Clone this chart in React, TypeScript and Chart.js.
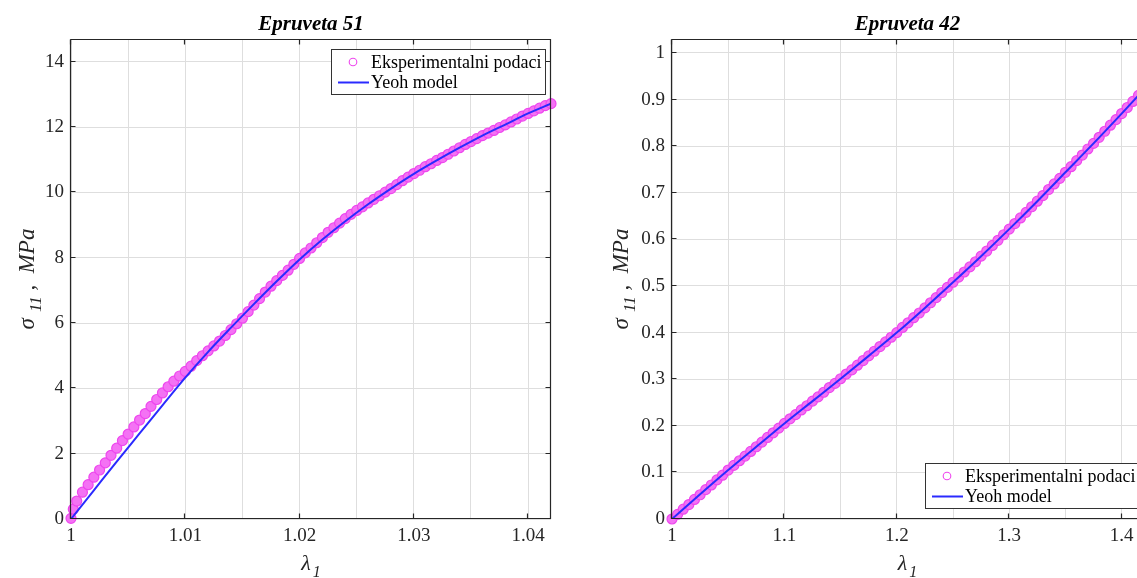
import React, { useEffect, useRef } from "react";
import { Chart, registerables } from "chart.js";

Chart.register(...registerables);

// ---------- Epruveta 51 ----------
const leftLambdaExp = [
  1.0000, 1.0002, 1.0005, 1.0010, 1.0015, 1.0020, 1.0025, 1.0030, 1.0035, 1.0040, 1.0045,
  1.0050, 1.0055, 1.0060, 1.0065, 1.0070, 1.0075, 1.0080, 1.0085, 1.0090, 1.0095,
  1.0100, 1.0105, 1.0110, 1.0115, 1.0120, 1.0125, 1.0130, 1.0135, 1.0140, 1.0145,
  1.0150, 1.0155, 1.0160, 1.0165, 1.0170, 1.0175, 1.0180, 1.0185, 1.0190, 1.0195,
  1.0200, 1.0205, 1.0210, 1.0215, 1.0220, 1.0225, 1.0230, 1.0235, 1.0240, 1.0245,
  1.0250, 1.0255, 1.0260, 1.0265, 1.0270, 1.0275, 1.0280, 1.0285, 1.0290, 1.0295,
  1.0300, 1.0305, 1.0310, 1.0315, 1.0320, 1.0325, 1.0330, 1.0335, 1.0340, 1.0345,
  1.0350, 1.0355, 1.0360, 1.0365, 1.0370, 1.0375, 1.0380, 1.0385, 1.0390, 1.0395,
  1.0400, 1.0405, 1.0410, 1.0415, 1.0420,
];
const leftSigmaExp = [
  0.02, 0.30, 0.55, 0.82, 1.05, 1.28, 1.50, 1.72, 1.95, 2.17, 2.40,
  2.60, 2.82, 3.03, 3.23, 3.45, 3.66, 3.86, 4.05, 4.22, 4.38,
  4.52, 4.68, 4.85, 5.00, 5.15, 5.30, 5.45, 5.62, 5.80, 5.98,
  6.15, 6.35, 6.55, 6.75, 6.95, 7.13, 7.30, 7.46, 7.62, 7.80,
  7.98, 8.15, 8.30, 8.46, 8.62, 8.78, 8.92, 9.06, 9.20, 9.33,
  9.45, 9.56, 9.68, 9.79, 9.90, 10.01, 10.12, 10.24, 10.36, 10.47,
  10.58, 10.68, 10.79, 10.88, 10.98, 11.07, 11.17, 11.27, 11.37, 11.47,
  11.56, 11.65, 11.74, 11.82, 11.90, 11.99, 12.07, 12.16, 12.25, 12.34,
  12.42, 12.50, 12.58, 12.66, 12.72,
];
const leftLambdaModel = [
  1.000, 1.002, 1.004, 1.006, 1.008, 1.010, 1.012, 1.014, 1.016, 1.018, 1.020,
  1.022, 1.024, 1.026, 1.028, 1.030, 1.032, 1.034, 1.036, 1.038, 1.040, 1.042,
];
const leftSigmaModel = [
  0.0, 0.88, 1.76, 2.62, 3.48, 4.33, 5.12, 5.86, 6.58, 7.28, 7.95,
  8.56, 9.12, 9.64, 10.12, 10.57, 10.98, 11.37, 11.74, 12.08, 12.42, 12.72,
];
const leftXGrid = [1, 1.005, 1.01, 1.015, 1.02, 1.025, 1.03, 1.035, 1.04];
const leftXLabels = [1, 1.01, 1.02, 1.03, 1.04];
const leftYTicks = [0, 2, 4, 6, 8, 10, 12, 14];

// ---------- Epruveta 42 ----------
const rightLambdaExp = [
  1.000, 1.005, 1.010, 1.015, 1.020, 1.025, 1.030, 1.035, 1.040, 1.045,
  1.050, 1.055, 1.060, 1.065, 1.070, 1.075, 1.080, 1.085, 1.090, 1.095,
  1.100, 1.105, 1.110, 1.115, 1.120, 1.125, 1.130, 1.135, 1.140, 1.145,
  1.150, 1.155, 1.160, 1.165, 1.170, 1.175, 1.180, 1.185, 1.190, 1.195,
  1.200, 1.205, 1.210, 1.215, 1.220, 1.225, 1.230, 1.235, 1.240, 1.245,
  1.250, 1.255, 1.260, 1.265, 1.270, 1.275, 1.280, 1.285, 1.290, 1.295,
  1.300, 1.305, 1.310, 1.315, 1.320, 1.325, 1.330, 1.335, 1.340, 1.345,
  1.350, 1.355, 1.360, 1.365, 1.370, 1.375, 1.380, 1.385, 1.390, 1.395,
  1.400, 1.405, 1.410, 1.415,
];
const rightSigmaExp = [
  0.000, 0.010, 0.021, 0.031, 0.042, 0.052, 0.063, 0.073, 0.084, 0.094,
  0.105, 0.115, 0.125, 0.135, 0.145, 0.155, 0.165, 0.175, 0.185, 0.195,
  0.205, 0.215, 0.224, 0.234, 0.243, 0.253, 0.262, 0.272, 0.282, 0.291,
  0.301, 0.311, 0.320, 0.330, 0.340, 0.350, 0.360, 0.370, 0.380, 0.390,
  0.400, 0.411, 0.421, 0.432, 0.442, 0.453, 0.464, 0.475, 0.486, 0.497,
  0.508, 0.519, 0.530, 0.541, 0.552, 0.564, 0.575, 0.587, 0.598, 0.610,
  0.622, 0.634, 0.646, 0.658, 0.670, 0.682, 0.694, 0.707, 0.719, 0.731,
  0.744, 0.756, 0.769, 0.781, 0.794, 0.806, 0.819, 0.832, 0.845, 0.857,
  0.870, 0.883, 0.896, 0.909,
];
const rightLambdaModel = [
  1.000, 1.025, 1.050, 1.075, 1.100, 1.125, 1.150, 1.175, 1.200,
  1.225, 1.250, 1.275, 1.300, 1.325, 1.350, 1.375, 1.400, 1.420,
];
const rightSigmaModel = [
  0.0, 0.053, 0.105, 0.155, 0.205, 0.253, 0.301, 0.350, 0.400,
  0.453, 0.508, 0.564, 0.622, 0.682, 0.744, 0.806, 0.870, 0.922,
];
const rightXGrid = [1, 1.05, 1.1, 1.15, 1.2, 1.25, 1.3, 1.35, 1.4];
const rightXLabels = [1, 1.1, 1.2, 1.3, 1.4];
const rightYTicks = [0, 0.1, 0.2, 0.3, 0.4, 0.5, 0.6, 0.7, 0.8, 0.9, 1];

const legendLabels = ["Eksperimentalni podaci", "Yeoh model"];

const SERIF = '"Liberation Serif", "Times New Roman", serif';
const AXIS_COLOR = "#262626";
const GRID_COLOR = "#dedede";
const MARKER_COLOR = "#ee46ee";
const MARKER_FILL = "#f472f4";
const LINE_COLOR = "#2a2aff";

const fmt = (v: number) => String(parseFloat(v.toFixed(4)));

type Spec = {
  title: string;
  lamExp: number[];
  sigExp: number[];
  lamModel: number[];
  sigModel: number[];
  xMin: number;
  xMax: number;
  yMax: number;
  xGrid: number[];
  xLabels: number[];
  yTicks: number[];
  yAxisWidth: number;
  padRight: number;
  drawRight: boolean;
  legend: { corner: "ne" | "se"; dx: number; dy: number; w: number; h: number };
  yLabelX: number;
  markerRadius: number;
};

function makeDecor(spec: Spec) {
  return {
    id: "decor",
    afterDraw(chart: any) {
      const ctx: CanvasRenderingContext2D = chart.ctx;
      const ca = chart.chartArea;
      const xs = chart.scales.x;
      const ys = chart.scales.y;
      ctx.save();
      const L = Math.round(ca.left) - 0.5;
      const R = Math.round(ca.right) - 0.5;
      const T = Math.round(ca.top) + 0.5;
      const B = Math.round(ca.bottom) - 0.5;
      ctx.strokeStyle = AXIS_COLOR;
      ctx.lineWidth = 1.2;
      ctx.beginPath();
      ctx.moveTo(L, T);
      ctx.lineTo(L, B);
      ctx.lineTo(R, B);
      if (spec.drawRight) ctx.lineTo(R, T);
      else ctx.moveTo(R, T);
      ctx.lineTo(L, T);
      ctx.stroke();
      // inward ticks
      const tl = 5;
      ctx.beginPath();
      for (const v of spec.xLabels) {
        const px = Math.round(xs.getPixelForValue(v)) - 0.5;
        ctx.moveTo(px, B);
        ctx.lineTo(px, B - tl);
        ctx.moveTo(px, T);
        ctx.lineTo(px, T + tl);
      }
      for (const v of spec.yTicks) {
        const py = Math.round(ys.getPixelForValue(v)) - 0.5;
        ctx.moveTo(L, py);
        ctx.lineTo(L + tl, py);
        ctx.moveTo(R, py);
        ctx.lineTo(R - tl, py);
      }
      ctx.stroke();

      const cx = (ca.left + ca.right) / 2;
      const cy = (ca.top + ca.bottom) / 2;
      // title
      ctx.fillStyle = "#000";
      ctx.font = `italic bold 21px ${SERIF}`;
      ctx.textAlign = "center";
      ctx.textBaseline = "alphabetic";
      ctx.fillText(spec.title, cx, 30);

      // x label lambda_1
      ctx.fillStyle = AXIS_COLOR;
      const mainFont = `italic 22px ${SERIF}`;
      const subFont = `italic 16px ${SERIF}`;
      ctx.textAlign = "left";
      ctx.font = mainFont;
      const wl = ctx.measureText("λ").width;
      ctx.font = subFont;
      const w1 = ctx.measureText("1").width;
      const xStart = cx - (wl + 2 + w1) / 2;
      ctx.font = mainFont;
      ctx.fillText("λ", xStart, 570);
      ctx.font = subFont;
      ctx.fillText("1", xStart + wl + 2, 577);

      // y label sigma_11 , MPa
      ctx.save();
      ctx.translate(spec.yLabelX, cy);
      ctx.rotate(-Math.PI / 2);
      const yMain = `italic 23px ${SERIF}`;
      const ySub = `italic 17px ${SERIF}`;
      ctx.font = yMain;
      const ws = ctx.measureText("σ").width;
      const wTail = ctx.measureText(" ,  MPa").width;
      ctx.font = ySub;
      const w11 = ctx.measureText("11").width;
      const total = ws + 6 + w11 + wTail;
      let x0 = -total / 2;
      ctx.font = yMain;
      ctx.fillText("σ", x0, 0);
      x0 += ws + 6;
      ctx.font = ySub;
      ctx.fillText("11", x0, 7);
      x0 += w11;
      ctx.font = yMain;
      ctx.fillText(" ,  MPa", x0, 0);
      ctx.restore();

      // legend
      const lg = spec.legend;
      const bx = Math.round(ca.right - lg.dx - lg.w) + 0.5;
      const by =
        lg.corner === "ne"
          ? Math.round(ca.top + lg.dy) + 0.5
          : Math.round(ca.bottom - lg.dy - lg.h) + 0.5;
      ctx.fillStyle = "#fff";
      ctx.fillRect(bx, by, lg.w, lg.h);
      ctx.strokeStyle = "#333";
      ctx.lineWidth = 1;
      ctx.strokeRect(bx, by, lg.w, lg.h);
      const r1 = by + 12.5;
      const r2 = by + 33;
      ctx.strokeStyle = MARKER_COLOR;
      ctx.lineWidth = 1.1;
      ctx.beginPath();
      ctx.arc(bx + 21.5, r1, 3.8, 0, Math.PI * 2);
      ctx.stroke();
      ctx.strokeStyle = LINE_COLOR;
      ctx.lineWidth = 2;
      ctx.beginPath();
      ctx.moveTo(bx + 6.5, r2);
      ctx.lineTo(bx + 37.5, r2);
      ctx.stroke();
      ctx.fillStyle = "#000";
      ctx.font = `18px ${SERIF}`;
      ctx.textBaseline = "middle";
      ctx.textAlign = "left";
      ctx.fillText(legendLabels[0], bx + 39.5, r1 + 1);
      ctx.fillText(legendLabels[1], bx + 39.5, r2 + 1);
      ctx.restore();
    },
  };
}

function makeConfig(spec: Spec): any {
  const expData = spec.lamExp.map((x, i) => ({ x, y: spec.sigExp[i] }));
  const modelData = spec.lamModel.map((x, i) => ({ x, y: spec.sigModel[i] }));
  const tickFont = { family: SERIF, size: 19 };
  return {
    type: "scatter",
    data: {
      datasets: [
        {
          label: legendLabels[1],
          data: modelData,
          showLine: true,
          borderColor: LINE_COLOR,
          borderWidth: 2,
          pointRadius: 0,
          cubicInterpolationMode: "monotone",
          order: 0,
        },
        {
          label: legendLabels[0],
          data: expData,
          showLine: false,
          pointStyle: "circle",
          pointRadius: spec.markerRadius,
          pointBorderWidth: 1.2,
          pointBorderColor: MARKER_COLOR,
          pointBackgroundColor: MARKER_FILL,
          clip: false,
          order: 1,
        },
      ],
    },
    options: {
      responsive: false,
      animation: false,
      devicePixelRatio: 1,
      events: [],
      layout: { padding: { top: 39, right: spec.padRight, left: 0, bottom: 0 } },
      plugins: {
        legend: { display: false },
        tooltip: { enabled: false },
        title: { display: false },
      },
      scales: {
        x: {
          type: "linear",
          min: spec.xMin,
          max: spec.xMax,
          afterBuildTicks: (s: any) => {
            s.ticks = spec.xGrid.map((v) => ({ value: v }));
          },
          afterFit: (s: any) => {
            s.height = 59;
          },
          ticks: {
            autoSkip: false,
            maxRotation: 0,
            padding: 6,
            color: AXIS_COLOR,
            font: tickFont,
            callback: (v: number) => {
              const m = spec.xLabels.find((l) => Math.abs(l - v) < 1e-9);
              return m === undefined ? "" : fmt(m);
            },
          },
          grid: { color: GRID_COLOR, lineWidth: 1, drawTicks: false },
          border: { display: false },
        },
        y: {
          type: "linear",
          min: 0,
          max: spec.yMax,
          afterBuildTicks: (s: any) => {
            s.ticks = spec.yTicks.map((v) => ({ value: v }));
          },
          afterFit: (s: any) => {
            s.width = spec.yAxisWidth;
          },
          ticks: {
            autoSkip: false,
            padding: 7,
            color: AXIS_COLOR,
            font: tickFont,
            callback: (v: number) => fmt(v),
          },
          grid: { color: GRID_COLOR, lineWidth: 1, drawTicks: false },
          border: { display: false },
        },
      },
    },
    plugins: [makeDecor(spec)],
  };
}

const leftSpec: Spec = {
  title: "Epruveta 51",
  lamExp: leftLambdaExp,
  sigExp: leftSigmaExp,
  lamModel: leftLambdaModel,
  sigModel: leftSigmaModel,
  xMin: 1,
  xMax: 1.042,
  yMax: 14.7,
  xGrid: leftXGrid,
  xLabels: leftXLabels,
  yTicks: leftYTicks,
  yAxisWidth: 71,
  padRight: 18,
  drawRight: true,
  legend: { corner: "ne", dx: 6.5, dy: 10, w: 214, h: 45 },
  yLabelX: 34,
  markerRadius: 5,
};

const rightSpec: Spec = {
  title: "Epruveta 42",
  lamExp: rightLambdaExp,
  sigExp: rightSigmaExp,
  lamModel: rightLambdaModel,
  sigModel: rightSigmaModel,
  xMin: 1,
  xMax: 1.419,
  yMax: 1.03,
  xGrid: rightXGrid,
  xLabels: rightXLabels,
  yTicks: rightYTicks,
  yAxisWidth: 92,
  padRight: 7,
  drawRight: true,
  legend: { corner: "se", dx: 6, dy: 11.5, w: 212, h: 45 },
  yLabelX: 48,
  markerRadius: 5,
};

function ChartPanel({ spec, left, width }: { spec: Spec; left: number; width: number }) {
  const ref = useRef<HTMLCanvasElement>(null);
  useEffect(() => {
    const chart = new Chart(ref.current as HTMLCanvasElement, makeConfig(spec));
    return () => chart.destroy();
  }, [spec]);
  return (
    <canvas
      ref={ref}
      width={width}
      height={578}
      style={{ position: "absolute", left, top: 0, width, height: 578 }}
    />
  );
}

export default function App() {
  return (
    <div
      style={{
        position: "absolute",
        left: 0,
        top: 0,
        width: 1137,
        height: 578,
        overflow: "hidden",
        background: "#fff",
      }}
    >
      <ChartPanel spec={leftSpec} left={0} width={569} />
      <ChartPanel spec={rightSpec} left={580} width={570} />
    </div>
  );
}
